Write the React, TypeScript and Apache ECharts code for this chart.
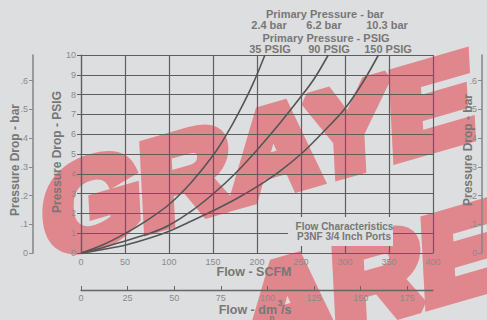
import React, { useEffect, useRef } from 'react';
import * as echarts from 'echarts';

// Flow (SCFM) vs pressure drop (PSIG) for each primary pressure
const psig35: number[][] = [[0, 0], [25, 0.42], [50, 0.98], [75, 1.65], [100, 2.45], [125, 3.55], [150, 4.92], [165, 5.95], [180, 7.15], [195, 8.5], [209, 10]];
const psig90: number[][] = [[0, 0], [25, 0.28], [50, 0.61], [80, 1.02], [100, 1.4], [125, 2.1], [150, 2.98], [175, 4.0], [200, 5.2], [225, 6.5], [250, 7.9], [265, 8.8], [281, 10]];
const psig150: number[][] = [[0, 0], [25, 0.18], [50, 0.39], [80, 0.78], [100, 1.1], [125, 1.6], [150, 2.13], [175, 2.7], [200, 3.35], [225, 4.1], [250, 5.0], [275, 6.1], [300, 7.3], [320, 8.6], [338, 10]];

const barTicks = [0, 0.1, 0.2, 0.3, 0.4, 0.5, 0.6];
const dmTicks = [0, 25, 50, 75, 100, 125, 150, 175];
const barLabels = ['2.4 bar', '6.2 bar', '10.3 bar'];
const psigLabels = ['35 PSIG', '90 PSIG', '150 PSIG'];

const PSI_TO_BAR = 0.0689476;
const SCFM_TO_DM3S = 0.4719474;

const FONT = '"Liberation Sans", Arial, Helvetica, sans-serif';
const BG = '#dddee0';
const GRID = '#5e5e5e';
const LABEL = '#8a8a8a';
const TITLE = '#777777';
const WM = '#e0878d';

function txt(text: string, x: number, y: number, size: number, opts: any = {}) {
  return {
    type: 'text',
    x,
    y,
    rotation: opts.rotation || 0,
    z: opts.z || 20,
    style: {
      text,
      font: `${opts.weight || 'bold'} ${size}px ${FONT}`,
      fill: opts.fill || TITLE,
      align: opts.align || 'center',
      verticalAlign: 'middle',
      textAlign: opts.align || 'center',
      textVerticalAlign: 'middle',
    },
  };
}

// watermark word drawn with a slanted (sheared) frame: baseline rises ~16deg, stems nearly upright
function watermark(text: string, x: number, y: number) {
  const theta = Math.atan(0.12257);
  const hs = 1.07;
  return {
    type: 'group',
    x,
    y,
    scaleX: 1,
    scaleY: 2.339,
    z: -10,
    children: [
      {
        type: 'text',
        x: 0,
        y: 0,
        rotation: theta,
        scaleX: hs / 1.0326,
        scaleY: 0.43015,
        z: -10,
        silent: true,
        style: {
          text,
          font: `bold 120px ${FONT}`,
          fill: WM,
          stroke: WM,
          lineWidth: 13,
          lineJoin: 'miter',
          align: 'left',
          verticalAlign: 'middle',
          textAlign: 'left',
          textVerticalAlign: 'middle',
        },
      },
    ],
  };
}

const barFmt = (v: number) => (v === 0 ? '0' : '.' + Math.round(v * 10));

export default function App() {
  const ref = useRef<HTMLDivElement>(null);
  useEffect(() => {
    const chart = echarts.init(ref.current!, null, { renderer: 'svg' });
    const lineSeries = (name: string, data: number[][]) => ({
      name,
      type: 'line',
      data,
      smooth: 0.35,
      symbol: 'none',
      xAxisIndex: 0,
      yAxisIndex: 0,
      lineStyle: { color: '#555555', width: 1.6 },
      z: 3,
    });
    chart.setOption({
      animation: false,
      backgroundColor: BG,
      textStyle: { fontFamily: FONT },
      grid: { left: 81, right: 54, top: 55, bottom: 67 },
      xAxis: [
        {
          type: 'value', min: 0, max: 400, interval: 50, position: 'bottom',
          axisLine: { show: true, lineStyle: { color: GRID, width: 1.2 } },
          axisTick: { show: false },
          axisLabel: { color: LABEL, fontSize: 9, margin: 4, fontFamily: FONT },
          splitLine: { show: true, lineStyle: { color: GRID, width: 1.2 } },
        },
        {
          type: 'value', min: 0, max: 400 * SCFM_TO_DM3S, position: 'bottom', offset: 37,
          axisLine: { show: true, onZero: false, lineStyle: { color: '#666', width: 1.3 } },
          axisTick: { show: true, inside: true, length: 4, customValues: dmTicks, lineStyle: { color: '#666' } },
          axisLabel: { customValues: dmTicks, color: LABEL, fontSize: 9, margin: 3, fontFamily: FONT },
          splitLine: { show: false },
        },
      ],
      yAxis: [
        {
          type: 'value', min: 0, max: 10, interval: 1, position: 'left',
          axisLine: { show: true, lineStyle: { color: GRID, width: 1.2 } },
          axisTick: { show: true, length: 4, lineStyle: { color: GRID } },
          axisLabel: { color: LABEL, fontSize: 9, margin: 5, fontFamily: FONT },
          splitLine: { show: true, lineStyle: { color: GRID, width: 1.2 } },
        },
        {
          type: 'value', min: 0, max: 10 * PSI_TO_BAR, position: 'left', offset: 48,
          axisLine: { show: true, onZero: false, lineStyle: { color: '#8a8a8a', width: 1.6 } },
          axisTick: { show: true, length: 4, customValues: barTicks, lineStyle: { color: '#8a8a8a' } },
          axisLabel: { customValues: barTicks, formatter: barFmt, color: LABEL, fontSize: 9, margin: 5, fontFamily: FONT },
          splitLine: { show: false },
        },
        {
          type: 'value', min: 0, max: 10 * PSI_TO_BAR, position: 'right', offset: 49,
          axisLine: { show: true, onZero: false, lineStyle: { color: '#8a8a8a', width: 1.6 } },
          axisTick: { show: true, inside: true, length: 4, customValues: barTicks, lineStyle: { color: '#8a8a8a' } },
          axisLabel: { inside: true, customValues: barTicks, formatter: barFmt, color: LABEL, fontSize: 9, margin: 5, fontFamily: FONT },
          splitLine: { show: false },
        },
      ],
      series: [
        lineSeries('35 PSIG', psig35),
        lineSeries('90 PSIG', psig90),
        lineSeries('150 PSIG', psig150),
      ],
      graphic: [
        watermark('GRAYE', 44, 216),
        watermark('ARE', 243, 315),
        txt('Primary Pressure - bar', 325, 13.5, 11),
        txt(barLabels[0], 269, 24.5, 11),
        txt(barLabels[1], 324, 24.5, 11),
        txt(barLabels[2], 387, 24.5, 11),
        txt('Primary Pressure - PSIG', 326, 38, 11),
        txt(psigLabels[0], 270, 49, 11),
        txt(psigLabels[1], 329, 49, 11),
        txt(psigLabels[2], 388, 49, 11),
        txt('Flow - SCFM', 254, 272, 12.5),
        txt('Flow - dm', 277, 310, 12.5, { align: 'right' }),
        txt('3', 277.5, 303, 9, { align: 'left' }),
        txt('/s', 281, 310, 12.5, { align: 'left' }),
        txt('n', 272, 317, 8),
        txt('Pressure Drop - PSIG', 57, 152, 12, { rotation: Math.PI / 2 }),
        txt('Pressure Drop - bar', 15, 160, 12, { rotation: Math.PI / 2 }),
        txt('Pressure Drop - bar', 468, 150, 12, { rotation: Math.PI / 2 }),
        { type: 'rect', z: 15, shape: { x: 288, y: 217, width: 105, height: 29 }, style: { fill: BG } },
        txt('Flow Characteristics', 344.5, 226, 10),
        txt('P3NF 3/4 Inch Ports', 344, 236.5, 10),
      ],
    });
    return () => chart.dispose();
  }, []);
  return <div ref={ref} style={{ position: 'absolute', left: 0, top: 0, width: 487, height: 320 }} />;
}
